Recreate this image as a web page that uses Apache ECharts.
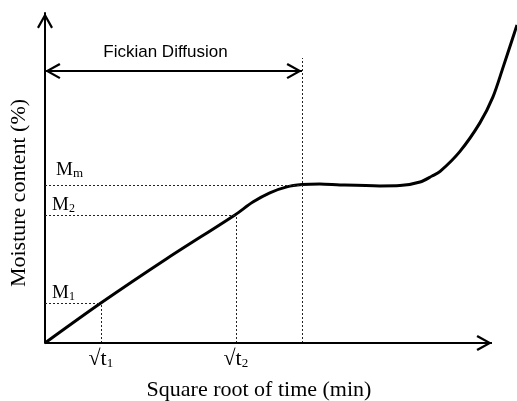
<!DOCTYPE html>
<html>
<head>
<meta charset="utf-8">
<script src="https://cdn.jsdelivr.net/npm/echarts@6/dist/echarts.min.js"></script>
<style>
  html, body { margin: 0; padding: 0; background: #fff; }
  #chart { width: 517px; height: 401px; }
</style>
</head>
<body>
<div id="chart"></div>
<script>
// Square root of time (scaled 0–100) at t1 and t2, and where the Fickian regime ends
const timeMarks = [12.5, 42.7];
const timeLabels = ['√t{sub|1}', '√t{sub|2}'];
const fickianEnd = 57.5;
const timeAxisEnd = 100;    // tip of the drawn time axis
const timeViewEnd = 105.6;  // right edge of the plot area (curve runs past the axis tip)

// Moisture content (scaled 0–100) for M1, M2 and Mm
const moistureMarks = [12.1, 38.8, 47.9];
const moistureLabels = ['{m|M}{sub|1}', '{m|M}{sub|2}', '{mh|M}{subh|m}'];

// Height of the Fickian diffusion arrow and top of its boundary line
const fickianArrowY = 82.4;
const fickianLineTop = 86.4;

// Moisture uptake curve: linear Fickian stage, plateau, then rapid rise
const curveX = [0, 12.5, 27.3, 42.5, 46.5, 50.3, 54.1, 57.5, 61.5, 66.0, 74.9, 79.4, 83.9, 86.6, 88.4, 92.8, 97.3, 100.2, 102.5, 104.5, 105.6];
const curveY = [0, 12.1, 25.6, 38.8, 42.7, 45.5, 47.3, 48.0, 48.2, 47.9, 47.6, 47.7, 48.8, 50.6, 52.0, 58.0, 66.7, 74.5, 83.6, 91.8, 96.4];

// Open chevron arrow head (points up in its own frame)
const chevron = 'path://M8,0 L16,14.3 L14.1,15.5 L8,4.4 L1.9,15.5 L0,14.3 Z';
const chevronSize = [16, 15.5];
const tipBack = 7.75;

const serif = 'Liberation Serif';

const curveData = curveX.map((x, i) => [x, curveY[i]]);

const dotted = { type: [2, 2], width: 1, color: '#222' };

function seg(x1, y1, x2, y2) {
  return [{ coord: [x1, y1], lineStyle: dotted, label: { show: false } }, { coord: [x2, y2] }];
}

const guideLines = [
  seg(0, moistureMarks[0], timeMarks[0], moistureMarks[0]),
  seg(timeMarks[0], 0, timeMarks[0], moistureMarks[0]),
  seg(0, moistureMarks[1], timeMarks[1], moistureMarks[1]),
  seg(timeMarks[1], 0, timeMarks[1], moistureMarks[1]),
  seg(0, moistureMarks[2], fickianEnd, moistureMarks[2]),
  seg(fickianEnd, 0, fickianEnd, fickianLineTop)
];

const chart = echarts.init(document.getElementById('chart'), null, { renderer: 'canvas' });

chart.setOption({
  animation: false,
  backgroundColor: '#fff',
  grid: { left: 45, right: 0, top: 13, bottom: 58, outerBoundsMode: 'none' },
  xAxis: {
    type: 'value',
    min: 0,
    max: timeViewEnd,
    splitLine: { show: false },
    axisTick: { show: false },
    axisLine: { show: false },
    axisLabel: {
      customValues: timeMarks,
      margin: 5,
      formatter: v => timeLabels[timeMarks.indexOf(v)] || '',
      color: '#000',
      fontFamily: serif,
      fontSize: 22,
      rich: {
        sub: { fontFamily: serif, fontSize: 13, color: '#000', verticalAlign: 'bottom', lineHeight: 12 }
      }
    },
    name: 'Square root of time (min)',
    nameLocation: 'middle',
    nameGap: 36,
    nameTextStyle: { color: '#000', fontFamily: serif, fontSize: 22, padding: [0, 44, 0, 0] }
  },
  yAxis: {
    type: 'value',
    min: 0,
    max: 100,
    splitLine: { show: false },
    axisTick: { show: false },
    axisLine: {
      show: true,
      lineStyle: { color: '#000', width: 2 },
      symbol: ['none', chevron],
      symbolSize: chevronSize,
      symbolOffset: [0, -tipBack]
    },
    axisLabel: {
      customValues: moistureMarks,
      inside: true,
      margin: 7,
      align: 'left',
      verticalAlign: 'bottom',
      formatter: v => moistureLabels[moistureMarks.indexOf(v)] || '',
      color: '#000',
      fontFamily: serif,
      rich: {
        m: { fontFamily: serif, fontSize: 19, color: '#000', lineHeight: 20 },
        sub: { fontFamily: serif, fontSize: 12, color: '#000', verticalAlign: 'bottom', lineHeight: 12 },
        mh: { fontFamily: serif, fontSize: 19, color: '#000', lineHeight: 20, padding: [0, 0, 9, 4] },
        subh: { fontFamily: serif, fontSize: 13, color: '#000', verticalAlign: 'bottom', lineHeight: 12, padding: [0, 0, 5, 0] }
      }
    },
    name: 'Moisture content (%)',
    nameLocation: 'middle',
    nameGap: 15,
    nameRotate: 90,
    nameTextStyle: { color: '#000', fontFamily: serif, fontSize: 22, padding: [0, 30, 0, 0] }
  },
  series: [
    {
      type: 'line',
      data: curveData,
      smooth: 0.3,
      showSymbol: false,
      clip: false,
      lineStyle: { color: '#000', width: 3 },
      markLine: {
        silent: true,
        symbol: ['none', 'none'],
        data: guideLines
      },
      z: 3
    },
    {
      // time axis line with its arrow head
      type: 'line',
      data: [],
      markLine: {
        silent: true,
        symbol: ['none', chevron],
        symbolSize: chevronSize,
        symbolOffset: [[0, 0], [0, tipBack]],
        lineStyle: { type: 'solid', color: '#000', width: 2 },
        label: { show: false },
        data: [[{ coord: [0, 0] }, { coord: [timeAxisEnd, 0] }]]
      }
    },
    {
      // Fickian diffusion span arrow
      type: 'line',
      data: [],
      markLine: {
        silent: true,
        symbol: [chevron, chevron],
        symbolSize: chevronSize,
        symbolOffset: [[0, tipBack], [0, tipBack]],
        lineStyle: { type: 'solid', color: '#000', width: 2 },
        label: {
          show: true,
          position: 'insideMiddleTop',
          formatter: 'Fickian Diffusion',
          distance: 10,
          color: '#000',
          fontFamily: 'Liberation Sans',
          fontSize: 17,
          padding: [0, 16, 0, 0]
        },
        data: [[{ coord: [0, fickianArrowY] }, { coord: [fickianEnd, fickianArrowY] }]]
      }
    }
  ]
});
</script>
</body>
</html>
